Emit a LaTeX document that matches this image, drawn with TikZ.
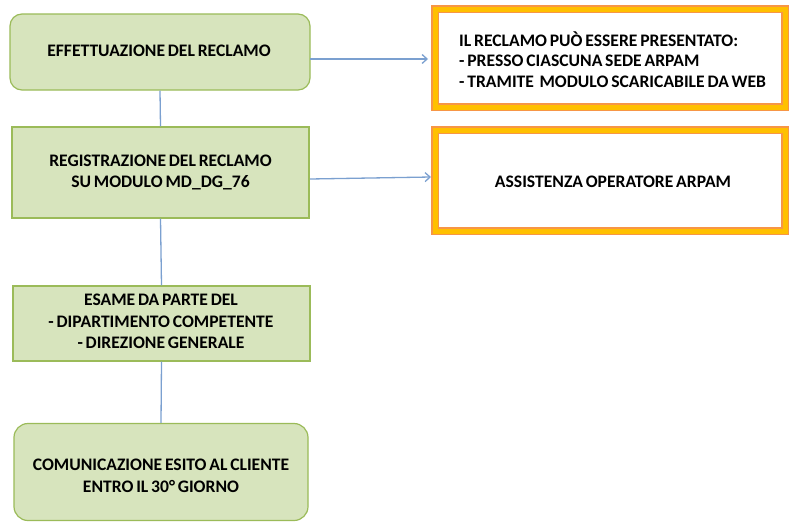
\documentclass[tikz,border=0pt]{standalone}
\usepackage{fontspec}
\setmainfont[WordSpace=0.7]{Carlito}
\usetikzlibrary{arrows.meta}
\definecolor{gfill}{HTML}{D7E4BD}
\definecolor{gline}{HTML}{9BBB59}
\definecolor{oline}{HTML}{F79646}
\definecolor{yfill}{HTML}{FFC000}
\definecolor{bline}{HTML}{7BA0D0}
\begin{document}
\begin{tikzpicture}[x=1pt,y=-1pt,
  txt/.style={font=\bfseries\fontsize{17.6}{21.5}\selectfont,inner sep=0pt},
  gbox/.style={draw=gline,fill=gfill,line width=1.2pt,txt,align=center},
  obox/.style={draw=oline,double=yfill,double distance=5pt,line width=1.2pt,fill=white,inner sep=0pt},
  conn/.style={draw=bline,line width=1.3pt},
  arr/.style={conn,-{Straight Barb[length=5pt,width=9pt]}}]
\useasboundingbox (0,0) rectangle (789,522);
\fill[white] (0,0) rectangle (789,522);
\node[gbox,rounded corners=12pt,minimum width=300pt,minimum height=76pt] (b1) at (160,52) {};
\node[txt] (b1t) at (159,51) {EFFETTUAZIONE DEL RECLAMO};
\node[gbox,minimum width=297pt,minimum height=91pt] (b2) at (160.5,172.5) {REGISTRAZIONE DEL RECLAMO\\SU MODULO MD\_DG\_76};
\node[gbox,minimum width=297pt,minimum height=75pt] (b3) at (161.5,323.5) {};
\node[txt,align=center] (b3t) at (161,321.5) {ESAME DA PARTE DEL\\- DIPARTIMENTO COMPETENTE\\- DIREZIONE GENERALE};
\node[gbox,rounded corners=14pt,minimum width=294pt,minimum height=97pt] (b4) at (161,472) {};
\node[txt,align=center] (b4t) at (161,476) {COMUNICAZIONE ESITO AL CLIENTE\\ENTRO IL 30° GIORNO};
\node[obox,minimum width=350pt,minimum height=98pt] (o1) at (610,58) {};
\node[obox,minimum width=350pt,minimum height=101pt] (o2) at (610,180.5) {};
\node[txt,font=\bfseries\fontsize{17.6}{20.5}\selectfont,align=left,anchor=west] (t1) at (459,59.5) {IL RECLAMO PUÒ ESSERE PRESENTATO:\\- PRESSO CIASCUNA SEDE ARPAM\\- TRAMITE~ MODULO SCARICABILE DA WEB};
\node[txt] (t2) at (613,182) {ASSISTENZA OPERATORE ARPAM};
\draw[conn] (b1.south) -- (b2.north);
\draw[conn] (b2.south) -- (b3.north);
\draw[conn] (b3.south) -- (b4.north);
\coordinate (a1s) at (310,59);
\coordinate (a1e) at (428,59);
\draw[arr] (a1s) -- (a1e);
\coordinate (a2s) at (310,179);
\coordinate (a2e) at (431,177);
\draw[arr] (a2s) -- (a2e);
\end{tikzpicture}
\end{document}
